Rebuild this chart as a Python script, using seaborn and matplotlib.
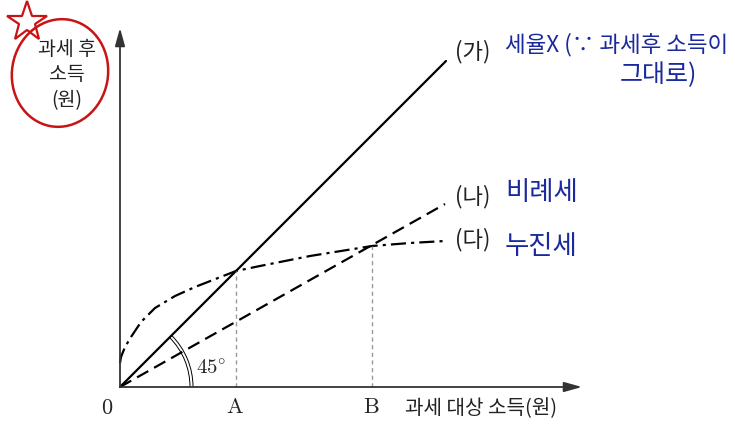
import matplotlib
matplotlib.use("Agg")
import matplotlib.pyplot as plt
from matplotlib.patches import Arc, Ellipse
import seaborn as sns
import pandas as pd

# ---- data (units, origin at the axes corner) ----
prop_x = [0, 326]            # (가) 45-degree line: after-tax = pre-tax
prop_y = [0, 326]
flat_x = [0, 325]            # (나) proportional tax
flat_y = [0, 183]
prog_x = [0, 1, 5, 11, 21, 35, 55, 75, 98, 116, 140, 190, 252, 290, 325]   # (다) progressive tax
prog_y = [24, 30, 40, 50, 65, 79, 91, 100, 109, 116, 121, 131, 141, 144, 146]
point_a = 116
point_b = 252
line_labels = ["(가)", "(나)", "(다)"]
notes = ["세율X (∵ 과세후 소득이", "그대로)", "비례세", "누진세"]

sns.set_theme(style="white")
plt.rcParams['font.family'] = ['Noto Sans CJK KR', 'DejaVu Sans']
plt.rcParams['mathtext.fontset'] = 'cm'

fig = plt.figure(figsize=(7.35, 4.27), dpi=100)
ax = fig.add_axes([0, 0, 1, 1])
ax.set_xlim(-120, 615)
ax.set_ylim(-39, 388)
ax.axis('off')

df1 = pd.DataFrame({"x": prop_x, "y": prop_y})
df2 = pd.DataFrame({"x": flat_x, "y": flat_y})
df3 = pd.DataFrame({"x": prog_x, "y": prog_y})

sns.lineplot(data=df1, x="x", y="y", ax=ax, color="black", lw=1.6, estimator=None)
sns.lineplot(data=df2, x="x", y="y", ax=ax, color="black", lw=1.6, estimator=None,
             linestyle=(0, (5.8, 3.0)))
sns.lineplot(data=df3, x="x", y="y", ax=ax, color="black", lw=1.6, estimator=None,
             linestyle=(0, (6.8, 2.3, 1.4, 2.3)))

# guide lines at A and B
ax.plot([point_a, point_a], [0, prog_y[prog_x.index(point_a)]], color="#999999", lw=1,
        linestyle=(0, (3, 2.5)))
ax.plot([point_b, point_b], [0, prog_y[prog_x.index(point_b)]], color="#999999", lw=1,
        linestyle=(0, (3, 2.5)))

# axes with arrows
ax.annotate("", xy=(462, 0), xytext=(0, 0),
            arrowprops=dict(arrowstyle="-|>,head_length=0.9,head_width=0.25",
                            color="#333333", lw=1.3, shrinkA=0, shrinkB=0))
ax.annotate("", xy=(0, 359), xytext=(0, 0),
            arrowprops=dict(arrowstyle="-|>,head_length=0.9,head_width=0.25",
                            color="#333333", lw=1.3, shrinkA=0, shrinkB=0))

# 45 degree double arc
for r in (140, 146):
    ax.add_patch(Arc((0, 0), r, r, theta1=0, theta2=45, color="black", lw=0.7))
ax.text(91, 19, r"$45^{\circ}$", fontsize=15, ha="center", va="center")

# tick-like labels
ax.text(-13, -20, r"$0$", fontsize=16, ha="center", va="center")
ax.text(point_a - 1, -19, r"$\mathrm{A}$", fontsize=16, ha="center", va="center")
ax.text(point_b - 1, -19, r"$\mathrm{B}$", fontsize=16, ha="center", va="center")
ax.text(361, -21, "과세 대상 소득(원)", fontsize=14.5, ha="center", va="center",
        color="#222222")
ax.text(-53, 313, "과세 후\n소득\n(원)", fontsize=14, ha="center", va="center",
        linespacing=1.3, color="#222222")

# line labels
ax.text(353, 336, line_labels[0], fontsize=16, ha="center", va="center", color="#222222")
ax.text(353, 191, line_labels[1], fontsize=16, ha="center", va="center", color="#222222")
ax.text(353, 148, line_labels[2], fontsize=16, ha="center", va="center", color="#222222")

# handwritten notes
blue = "#1a2a9e"
ax.text(385, 343, notes[0], fontsize=16.2, ha="left", va="center", color=blue)
ax.text(500, 313, notes[1], fontsize=18, ha="left", va="center", color=blue)
ax.text(385, 195, notes[2], fontsize=19, ha="left", va="center", color=blue)
ax.text(385, 141, notes[3], fontsize=19, ha="left", va="center", color=blue)

# red circle and star
red = "#c81414"
ax.add_patch(Ellipse((-60, 314), 96, 108, angle=-10, fill=False, ec=red, lw=1.8))
ax.plot([-93], [365], marker="*", markersize=30, mfc="none", mec=red, mew=1.6)

fig.savefig("out.png", dpi=100)
